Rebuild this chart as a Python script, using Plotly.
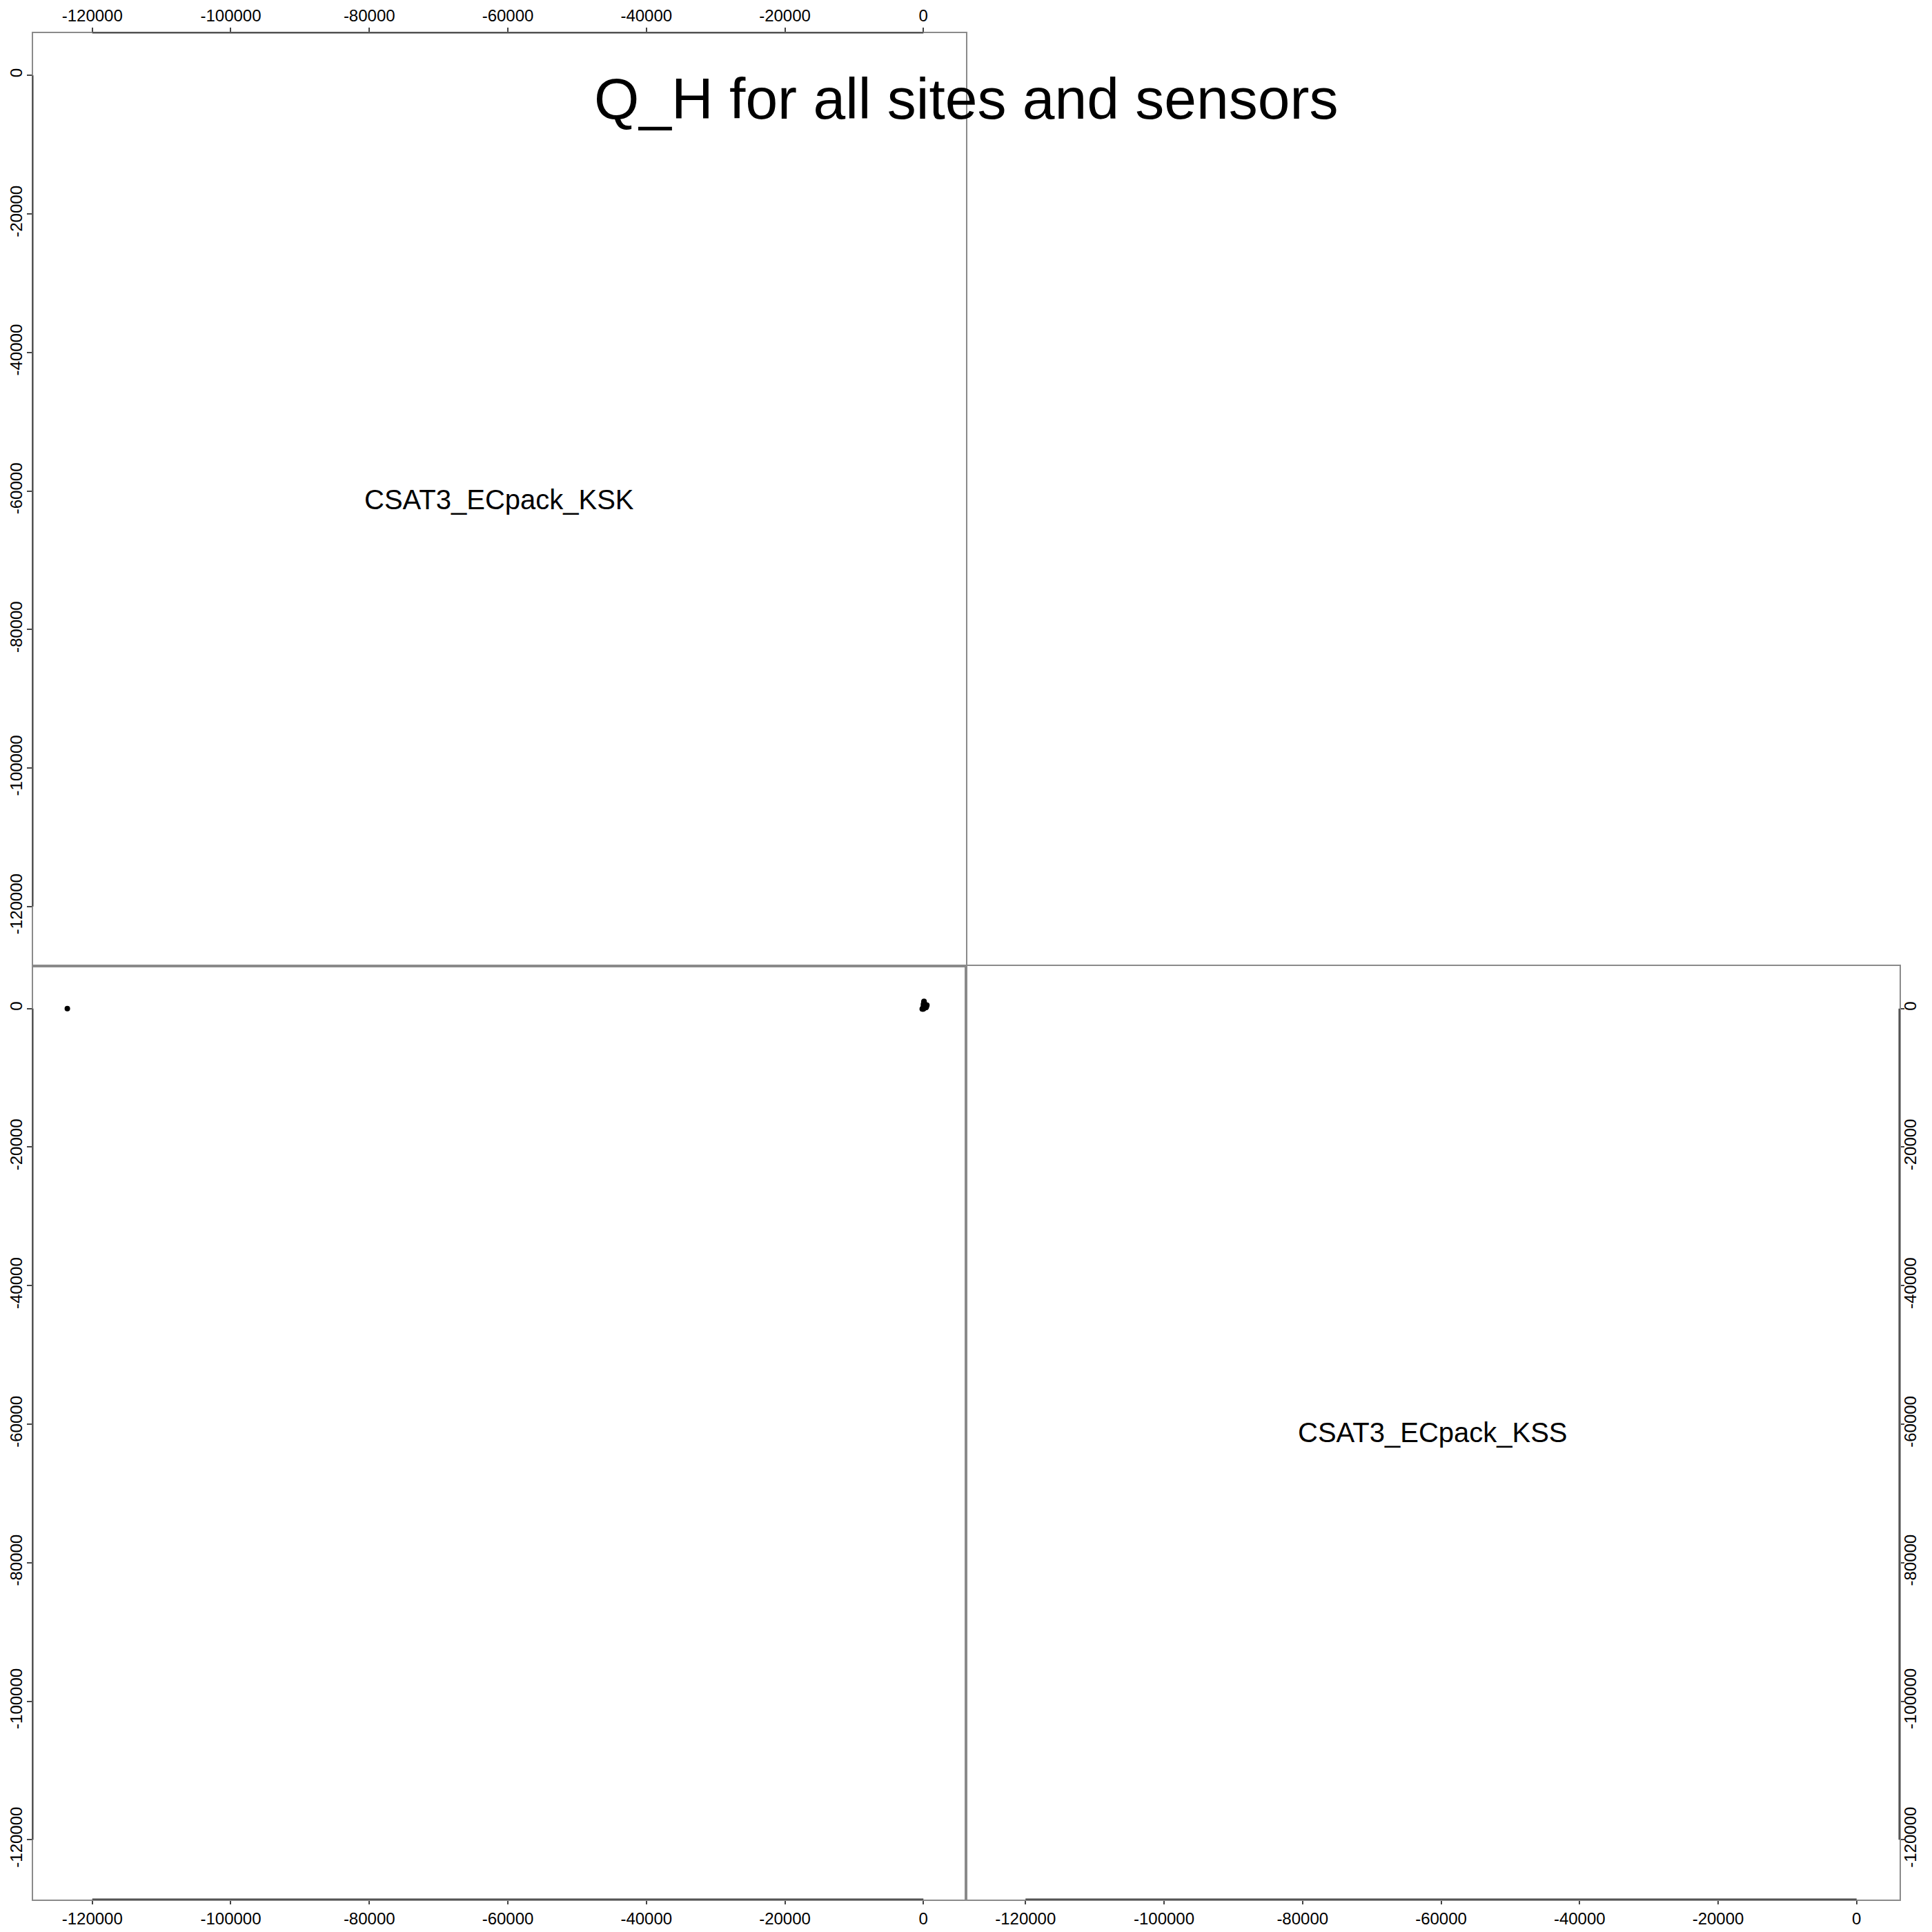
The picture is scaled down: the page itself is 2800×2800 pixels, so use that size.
import math
import plotly.graph_objects as go

# ---- data (Q_H) ----
var_names = ["CSAT3_ECpack_KSK", "CSAT3_ECpack_KSS"]
title_text = "Q_H for all sites and sensors"

ksk = [-123600, 12, -35, 48, 95, 150, 210, 260, 320, 380, 450, 505, -60, -110,
       -170, 5, 30, 75, 130, 180, 240, 300, 360, 420, 20, 60, 85, 110, 40, -20,
       70, 90, 1160, float("nan"), float("nan")]
kss = [10, 20, -40, 60, 110, 160, 220, 270, 330, 390, 440, 500, -45, -30,
       -50, 260, 350, 420, 480, 540, 600, 310, 150, 250, 650, 720, 800, 880, 560, -10,
       950, 1050, float("nan"), -123600, 1160]

tick_vals = [-120000, -100000, -80000, -60000, -40000, -20000, 0]
tick_text = ["-120000", "-100000", "-80000", "-60000", "-40000", "-20000", "0"]


def ext_range(vals):
    v = [a for a in vals if not math.isnan(a)]
    lo, hi = min(v), max(v)
    d = 0.04 * (hi - lo)
    return [lo - d, hi + d]


r_ksk = ext_range(ksk)
r_kss = ext_range(kss)

W = 2800
c1 = [47.5 / W, 1400 / W]
c2 = [1400 / W, 2752.5 / W]
r1 = [1 - 1400 / W, 1 - 47.5 / W]
r2 = [1 - 2752.5 / W, 1 - 1400 / W]

FONT = "Liberation Sans"
BOX = "#8a8a8a"
AX = "#444444"

fig = go.Figure()

# scatter panel (row 2, col 1): x = KSK, y = KSS
pts_x = [a for a, b in zip(ksk, kss) if not (math.isnan(a) or math.isnan(b))]
pts_y = [b for a, b in zip(ksk, kss) if not (math.isnan(a) or math.isnan(b))]
fig.add_trace(go.Scatter(x=pts_x, y=pts_y, mode="markers", xaxis="x2", yaxis="y2",
                         marker=dict(color="black", size=8, line=dict(width=0)),
                         hoverinfo="skip", showlegend=False))
# empty traces so diagonal panels get their axes
fig.add_trace(go.Scatter(x=[None], y=[None], xaxis="x", yaxis="y", showlegend=False, hoverinfo="skip"))
fig.add_trace(go.Scatter(x=[None], y=[None], xaxis="x3", yaxis="y3", showlegend=False, hoverinfo="skip"))


def ax(**kw):
    d = dict(tickvals=tick_vals, ticktext=tick_text, ticks="outside", ticklen=6,
             tickwidth=2, tickcolor=AX, showline=True, linecolor=BOX, linewidth=2,
             mirror=True, showgrid=False, zeroline=False, fixedrange=True,
             tickfont=dict(family=FONT, size=24, color="black"))
    d.update(kw)
    return d


fig.update_layout(
    width=2800, height=2800, margin=dict(l=0, r=0, t=0, b=0),
    paper_bgcolor="white", plot_bgcolor="white", showlegend=False,
    xaxis=ax(domain=c1, anchor="y", side="top", range=r_ksk, ticklen=6, ticklabelstandoff=-1),
    yaxis=ax(domain=r1, anchor="x", side="left", range=r_ksk, tickangle=-90, ticklen=7,
             ticklabelstandoff=-3),
    xaxis2=ax(domain=c1, anchor="y2", side="bottom", range=r_ksk, ticklen=5, ticklabelstandoff=1),
    yaxis2=ax(domain=r2, anchor="x2", side="left", range=r_kss, tickangle=-90, ticklen=7,
              ticklabelstandoff=-3),
    xaxis3=ax(domain=c2, anchor="y3", side="bottom", range=r_kss, ticklen=5, ticklabelstandoff=1),
    yaxis3=ax(domain=r2, anchor="x3", side="right", range=r_kss, tickangle=-90, ticklen=5,
              ticklabelstandoff=-11),
)

# darker axis segments from first to last tick (like R's axis())
shapes = []
lo_t, hi_t = min(tick_vals), max(tick_vals)
for xa, ya, yy in [("x", "y", 1), ("x2", "y2", 0), ("x3", "y3", 0)]:
    shapes.append(dict(type="line", xref=xa, yref=ya + " domain", x0=lo_t, x1=hi_t,
                       y0=yy, y1=yy, line=dict(color=AX, width=2)))
for xa, ya, xx in [("x", "y", 0), ("x2", "y2", 0), ("x3", "y3", 1)]:
    shapes.append(dict(type="line", xref=xa + " domain", yref=ya, y0=lo_t, y1=hi_t,
                       x0=xx, x1=xx, line=dict(color=AX, width=2)))
fig.update_layout(shapes=shapes)

# diagonal labels
fig.add_annotation(text=var_names[0], xref="x domain", yref="y domain", x=0.5, y=0.5,
                   showarrow=False, font=dict(family=FONT, size=40, color="black"))
fig.add_annotation(text=var_names[1], xref="x3 domain", yref="y3 domain", x=0.5, y=0.5,
                   showarrow=False, font=dict(family=FONT, size=40, color="black"))
# title
fig.add_annotation(text=title_text, xref="paper", yref="paper", x=0.5, y=1 - 143 / W,
                   yanchor="middle", showarrow=False,
                   font=dict(family=FONT, size=84, color="black"))

fig.write_html("out.html")
